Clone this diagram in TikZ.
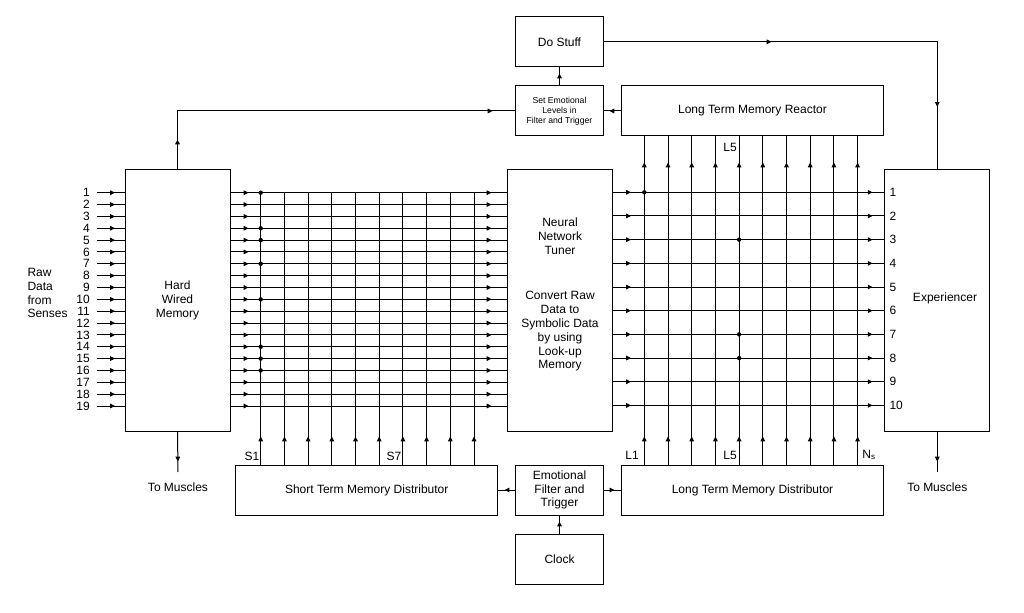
\documentclass[tikz,border=0pt]{standalone}
\usepackage{fontspec}
\setmainfont{Liberation Sans}
\usetikzlibrary{arrows.meta,decorations.markings}

\tikzset{every picture/.style={line width=0.75pt}}
\tikzset{
  blk/.style={draw, inner sep=0pt, align=center, font=\fontsize{9}{10.4}\selectfont},
  lbl/.style={inner sep=0.75pt, align=center, font=\fontsize{9}{10.4}\selectfont},
  small/.style={font=\fontsize{6.5}{7.5}\selectfont},
  arrat/.style={postaction={decorate,decoration={markings,mark=at position #1 with {\arrow{Triangle[length=3.6pt,width=3.4pt]}}}}}
}

\begin{document}
\begin{tikzpicture}[x=0.75pt,y=0.75pt,yscale=-1,xscale=1]
\useasboundingbox (0,0) rectangle (1024,613);

%Shape: Rectangle [boxes]
\node[blk, minimum width=78.75pt, minimum height=195.75pt] (hw) at (177.5,300.5) {Hard\\Wired\\Memory};
\node[blk, minimum width=78.75pt, minimum height=195.75pt] (nn) at (560,300.5) {};
\node[blk, minimum width=79.1pt, minimum height=195.75pt] (exp) at (937.25,300.5) {};
\node[blk, minimum width=65.7pt, minimum height=37.7pt] (do) at (559.5,41.85) {Do Stuff};
\node[blk, small, minimum width=65.7pt, minimum height=37.5pt] (set) at (559.5,111) {Set Emotional\\Levels in\\Filter and Trigger};
\node[blk, minimum width=196.2pt, minimum height=37.5pt] (ltmr) at (752.5,111) {Long Term Memory Reactor};
\node[blk, minimum width=196.5pt, minimum height=37.5pt] (stm) at (366.7,490) {Short Term Memory Distributor};
\node[blk, minimum width=65.7pt, minimum height=37.5pt] (emo) at (559.5,490) {Emotional\\Filter and\\Trigger};
\node[blk, minimum width=196.2pt, minimum height=37.5pt] (ltmd) at (752.5,490) {Long Term Memory Distributor};
\node[blk, minimum width=65.7pt, minimum height=37.5pt] (clock) at (559.5,559) {Clock};

% Text Node
\node[lbl, yshift=4.5pt] (nntext) at (nn.center) {Neural\\Network\\Tuner\\[23.8pt]Convert Raw\\Data to\\Symbolic Data\\by using\\Look-up\\Memory};
% Text Node
\node[lbl] (exptext) at (945,298) {Experiencer};
% Text Node
\node[lbl, anchor=west, align=left] (raw) at (26,293) {Raw\\Data\\from\\Senses};

% inputs and short term matrix
\foreach \i [evaluate=\i as \y using 192.7+(\i-1)*11.85] in {1,...,19}{
  \node[lbl, anchor=east, inner xsep=5pt] (n\i) at (97,\y) {\i};
  \draw[arrat=13.5pt] (n\i.east) -- (hw.west |- n\i.east);
  \draw[arrat=13.5pt, arrat=-11.6pt] (hw.east |- n\i.east) -- (nn.west |- n\i.east);
}
\foreach \k [evaluate=\k as \x using 260.7+\k*23.7] in {0,...,9}{
  \coordinate (s\k) at (\x,192.7);
  \draw[arrat=21pt] (stm.north -| s\k) -- (s\k);
}
\foreach \i in {1,4,5,7,10,14,15,16} \fill (s0 |- n\i.east) circle (2.2);

% long term matrix
\foreach \j [evaluate=\j as \y using 192.3+(\j-1)*23.68] in {1,...,10}{
  \node[lbl, anchor=west] (m\j) at (888,\y) {\j};
  \draw[arrat=13.5pt, arrat=-8.6pt] (nn.east |- m\j.west) -- (exp.west |- m\j.west);
}
\foreach \k [evaluate=\k as \x using 644.3+\k*23.7] in {0,...,9}{
  \coordinate (t\k) at (\x,300);
  \draw[arrat=21pt, arrat=-19.5pt] (ltmd.north -| t\k) -- (ltmr.south -| t\k);
}
\foreach \p/\j in {0/1,4/3,4/7,4/8} \fill (t\p |- m\j.west) circle (2.2);

% matrix labels
\node[lbl] (S1) at (252,456) {S1};
\node[lbl] (S7) at (394,456) {S7};
\node[lbl] (L1) at (632,455) {L1};
\node[lbl] (L5b) at (730,455) {L5};
\node[lbl] (Ns) at (869,455) {N\textsubscript{s}};
\node[lbl] (L5t) at (730,147) {L5};

% outputs
\node[lbl, anchor=north, inner ysep=8pt] (muscL) at (178,472) {To Muscles};
\node[lbl, anchor=north, inner ysep=8pt] (muscR) at (937.25,472) {To Muscles};
\draw[arrat=22.5pt] (hw.south) -- (muscL.north);
\draw[arrat=22.5pt] (exp.south) -- (muscR.north);

% feedback connectors
\draw[arrat=22.5pt, arrat=-17pt] (hw.north) |- (set.west);
\draw[arrat=9pt] (set.north) -- (do.south);
\draw[arrat=8.8pt] (ltmr.west) -- (set.east);
\draw[arrat=125.8pt, arrat=-47pt] (do.east) -| (exp.north);
\draw[arrat=8pt] (emo.west) -- (stm.east);
\draw[arrat=8pt] (emo.east) -- (ltmd.west);
\draw[arrat=9pt] (clock.north) -- (emo.south);

\end{tikzpicture}
\end{document}
